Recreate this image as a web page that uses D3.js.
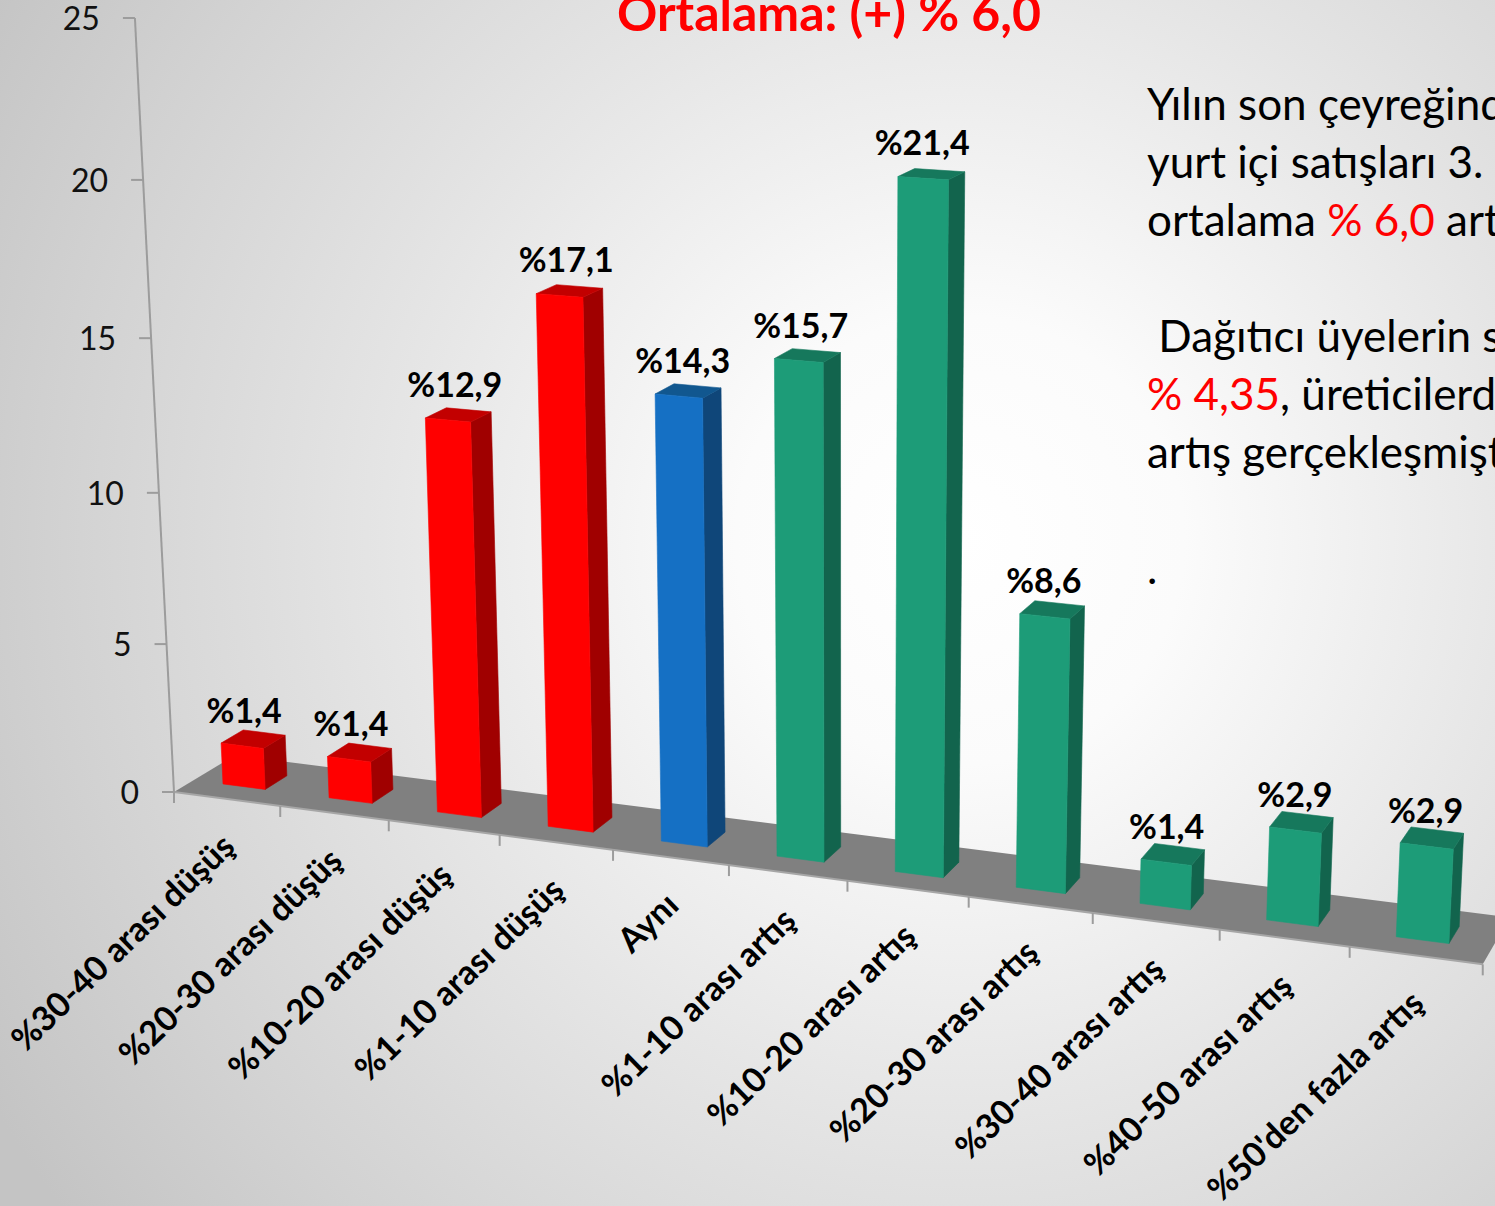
<!DOCTYPE html>
<html><head><meta charset="utf-8">
<script src="https://d3js.org/d3.v7.min.js"></script>
<style>html,body{margin:0;padding:0;overflow:hidden;background:#fff}svg{display:block}text{font-family:Lato,"Open Sans",sans-serif}</style>
</head><body><svg id="c" width="1495" height="1206"></svg>
<script>
const categories=["%30-40 arası düşüş","%20-30 arası düşüş","%10-20 arası düşüş","%1-10 arası düşüş","Aynı","%1-10 arası artış","%10-20 arası artış","%20-30 arası artış","%30-40 arası artış","%40-50 arası artış","%50'den fazla artış"];
const values=[1.4,1.4,12.9,17.1,14.3,15.7,21.4,8.6,1.4,2.9,2.9];
const labels=["%1,4","%1,4","%12,9","%17,1","%14,3","%15,7","%21,4","%8,6","%1,4","%2,9","%2,9"];
const groups=["down","down","down","down","same","up","up","up","up","up","up"];
const yTicks=[0,5,10,15,20,25];
const groupNames=["down","same","up"];
const frontColors=["#ff0000","#1570c4","#1d9c78"];
const topColors=["#c20000","#11578f","#16785c"];
const sideColors=["#a00000","#0f4679","#12644d"];

const svg=d3.select("#c");
const W=1495,H=1206;
const defs=svg.append("defs");
const rg=defs.append("radialGradient").attr("id","bg").attr("gradientUnits","userSpaceOnUse")
 .attr("cx",960).attr("cy",540).attr("r",1120);
[[0,"#ffffff"],[.2,"#fbfbfb"],[.5,"#e6e6e6"],[.8,"#d2d2d2"],[1,"#c4c4c4"]].forEach(s=>rg.append("stop").attr("offset",s[0]).attr("stop-color",s[1]));
svg.append("rect").attr("width",W).attr("height",H).attr("fill","url(#bg)");

const n=categories.length;
const xBand=d3.scaleBand().domain(categories).range([-.02,n-.02]).paddingInner(.6).paddingOuter(.3);
const yVal=d3.scaleLinear().domain([0,25]).range([0,1]);
const barD0=.317,barD1=.683;
function project(u,t,d){
 const w=1-.0106*u-.055*t+.0292*d;
 return [(174+103.26*u-46.5*t+67.8*d)/w,(792+5.445*u-775*t-14.66*d)/w];
}
const pathOf=pts=>"M"+pts.map(p=>p.join(",")).join("L")+"Z";
const colorOf=(arr,g)=>arr[groupNames.indexOf(g)];

svg.append("path").attr("d",pathOf([project(0,0,0),project(n,0,0),project(n,0,1),project(0,0,1)])).attr("fill","#808080");
svg.append("path").attr("d",pathOf([project(0,0,0),project(n,0,0)])).attr("stroke","#a6a6a6").attr("stroke-width",2).attr("fill","none");

const axisCol="#9c9c9c";
svg.append("line").datum(project(0,0,0)).attr("x1",d=>d[0]).attr("y1",d=>d[1])
 .attr("x2",project(0,1,0)[0]).attr("y2",project(0,1,0)[1]).attr("stroke",axisCol).attr("stroke-width",2);
const yg=svg.append("g").selectAll("g").data(yTicks).join("g");
yg.append("line").attr("x1",d=>project(0,yVal(d),0)[0]-12).attr("x2",d=>project(0,yVal(d),0)[0])
 .attr("y1",d=>project(0,yVal(d),0)[1]).attr("y2",d=>project(0,yVal(d),0)[1]).attr("stroke",axisCol).attr("stroke-width",2);
yg.append("text").attr("x",d=>project(0,yVal(d),0)[0]-35).attr("y",d=>project(0,yVal(d),0)[1]+12)
 .attr("text-anchor","end").attr("font-size",32).attr("fill","#111").text(d=>d);

svg.append("g").selectAll("line").data(d3.range(n+1)).join("line")
 .attr("x1",i=>project(i,0,0)[0]).attr("x2",i=>project(i,0,0)[0])
 .attr("y1",i=>project(i,0,0)[1]).attr("y2",i=>project(i,0,0)[1]+11).attr("stroke",axisCol).attr("stroke-width",2);

const rows=categories.map((c,i)=>({c,v:values[i],l:labels[i],g:groups[i]}));
const bars=svg.append("g").selectAll("g").data(rows).join("g");
const corners=r=>{const u0=xBand(r.c),u1=u0+xBand.bandwidth(),t=yVal(r.v);return{u0,u1,t};};
bars.append("path").attr("d",r=>{const{u1,t}=corners(r);return pathOf([project(u1,0,barD0),project(u1,0,barD1),project(u1,t,barD1),project(u1,t,barD0)]);})
 .attr("fill",r=>colorOf(sideColors,r.g)).attr("stroke",r=>colorOf(sideColors,r.g)).attr("stroke-width",.6);
bars.append("path").attr("d",r=>{const{u0,u1,t}=corners(r);return pathOf([project(u0,t,barD0),project(u1,t,barD0),project(u1,t,barD1),project(u0,t,barD1)]);})
 .attr("fill",r=>colorOf(topColors,r.g)).attr("stroke",r=>colorOf(topColors,r.g)).attr("stroke-width",.6);
bars.append("path").attr("d",r=>{const{u0,u1,t}=corners(r);return pathOf([project(u0,0,barD0),project(u1,0,barD0),project(u1,t,barD0),project(u0,t,barD0)]);})
 .attr("fill",r=>colorOf(frontColors,r.g)).attr("stroke",r=>colorOf(frontColors,r.g)).attr("stroke-width",.6);
bars.append("text").attr("text-anchor","middle").attr("font-weight",700).attr("font-size",34).attr("fill","#000")
 .attr("x",r=>{const{u0,u1,t}=corners(r);return (project(u0,t/2,barD0)[0]+project(u1,t/2,barD0)[0])/2+1;})
 .attr("y",r=>{const{u0,u1,t}=corners(r);return (project(u0,t,barD0)[1]+project(u1,t,barD0)[1])/2-23;})
 .text(r=>r.l);

svg.append("g").selectAll("text").data(categories).join("text")
 .attr("text-anchor","end").attr("font-size",34).attr("font-weight",700).attr("fill","#000")
 .attr("transform",(c,i)=>{const p=project(i+.5,0,0);return `translate(${p[0]+10},${p[1]+50}) rotate(-44)`;})
 .text(c=>c);

svg.append("text").attr("x",829).attr("y",31).attr("text-anchor","middle").attr("font-size",50).attr("font-weight",700).attr("fill","#ff0000").text("Ortalama: (+) % 6,0");
const noteLines=[
 [["Yılın son çeyreğinde","#000"]],
 [["yurt içi satışları 3.","#000"]],
 [["ortalama ","#000"],["% 6,0","#ff0000"],[" artış","#000"]],
 [],
 [["\u00a0Dağıtıcı üyelerin s","#000"]],
 [["% 4,35","#ff0000"],[", üreticilerde","#000"]],
 [["artış gerçekleşmiştir","#000"]],
 [],
 [[".","#000"]]
];
const note=svg.append("g").selectAll("text").data(noteLines).join("text")
 .attr("x",1147).attr("y",(d,i)=>120+i*58).attr("font-size",44).attr("xml:space","preserve");
note.selectAll("tspan").data(d=>d).join("tspan").attr("fill",d=>d[1]).text(d=>d[0]);
</script></body></html>
